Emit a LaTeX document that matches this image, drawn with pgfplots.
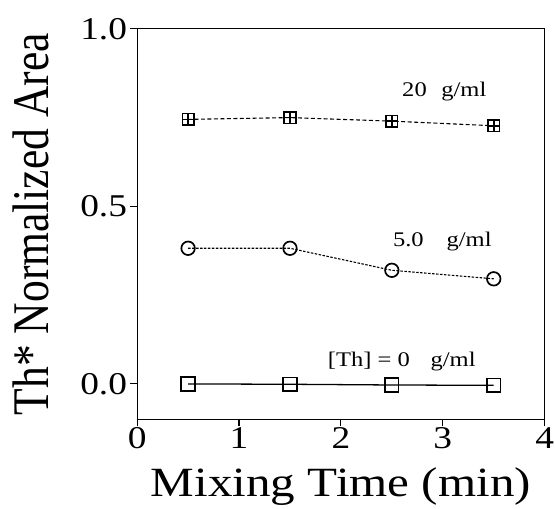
\documentclass[border=0pt]{standalone}
\usepackage{fontspec}
\setmainfont{Liberation Serif}[FakeStretch=1.18]
\newfontfamily\ylabfont{Liberation Serif}
\usepackage{pgfplots}
\pgfplotsset{compat=1.18}

\begin{document}
\begin{tikzpicture}[x=1bp,y=1bp]
\begin{axis}[
  scale only axis,
  width=410bp,
  height=393bp,
  xmin=0, xmax=4,
  ymin=-0.1, ymax=1.0,
  xtick={0,1,2,3,4},
  ytick={0,0.5,1},
  yticklabels={0.0,0.5,1.0},
  tick align=outside,
  xtick pos=bottom,
  ytick pos=left,
  major tick length=7bp,
  axis line style={line width=1.1pt},
  tick style={line width=1.1pt, black},
  /pgf/number format/assume math mode=true,
  ticklabel style={font=\fontsize{32}{32}\selectfont, inner sep=1bp},
  xticklabel style={yshift=0bp},
  yticklabel style={xshift=-2bp},
  xlabel={Mixing Time (min)},
  ylabel={\scalebox{1}[1.18]{Th* Normalized Area}},
  xlabel style={font=\fontsize{42}{42}\selectfont, inner sep=0pt,
    at={(axis description cs:0.5,0)}, anchor=base, yshift=-78bp},
  ylabel style={font=\ylabfont\fontsize{44}{44}\selectfont, inner sep=0pt,
    at={(axis description cs:0,0.5)}, anchor=north, yshift=125bp},
  clip=false,
]
% 20 g/ml
\addplot[black, line width=1.1pt, dash pattern=on 4bp off 2.5bp,
  mark=square, mark size=5.8bp,
  mark options={solid, line width=1.6pt}] coordinates {
  (0.5,0.745)(1.5,0.750)(2.5,0.740)(3.5,0.727)
};
\addplot[black, only marks, mark=+, mark size=5.8bp,
  mark options={line width=1.6pt}] coordinates {
  (0.5,0.745)(1.5,0.750)(2.5,0.740)(3.5,0.727)
};
% 5.0 g/ml
\addplot[black, line width=1.1pt, dash pattern=on 2.5bp off 1.5bp,
  mark=o, mark size=6.8bp,
  mark options={solid, line width=1.7pt}] coordinates {
  (0.5,0.382)(1.5,0.382)(2.5,0.320)(3.5,0.296)
};
% 0 g/ml
\addplot[black, line width=1.3pt,
  mark=square, mark size=6.8bp,
  mark options={solid, line width=1.7pt}] coordinates {
  (0.5,0.0)(1.5,-0.001)(2.5,-0.003)(3.5,-0.004)
};
\node[anchor=base west, font=\fontsize{21}{21}\selectfont, inner sep=0pt]
  at (axis cs:2.60,0.81) {20\hspace{0.7em}g/ml};
\node[anchor=base west, font=\fontsize{21}{21}\selectfont, inner sep=0pt]
  at (axis cs:2.51,0.387) {5.0\hspace{1.1em}g/ml};
\node[anchor=base west, font=\fontsize{21}{21}\selectfont, inner sep=0pt]
  at (axis cs:1.87,0.05) {[Th] = 0\hspace{1em}g/ml};
\coordinate (tl) at (rel axis cs:0,1);
\end{axis}
% page frame matching the reference margins
\path (tl) ++(-138bp,29bp) -- ++(555bp,-512bp);
\end{tikzpicture}
\end{document}
